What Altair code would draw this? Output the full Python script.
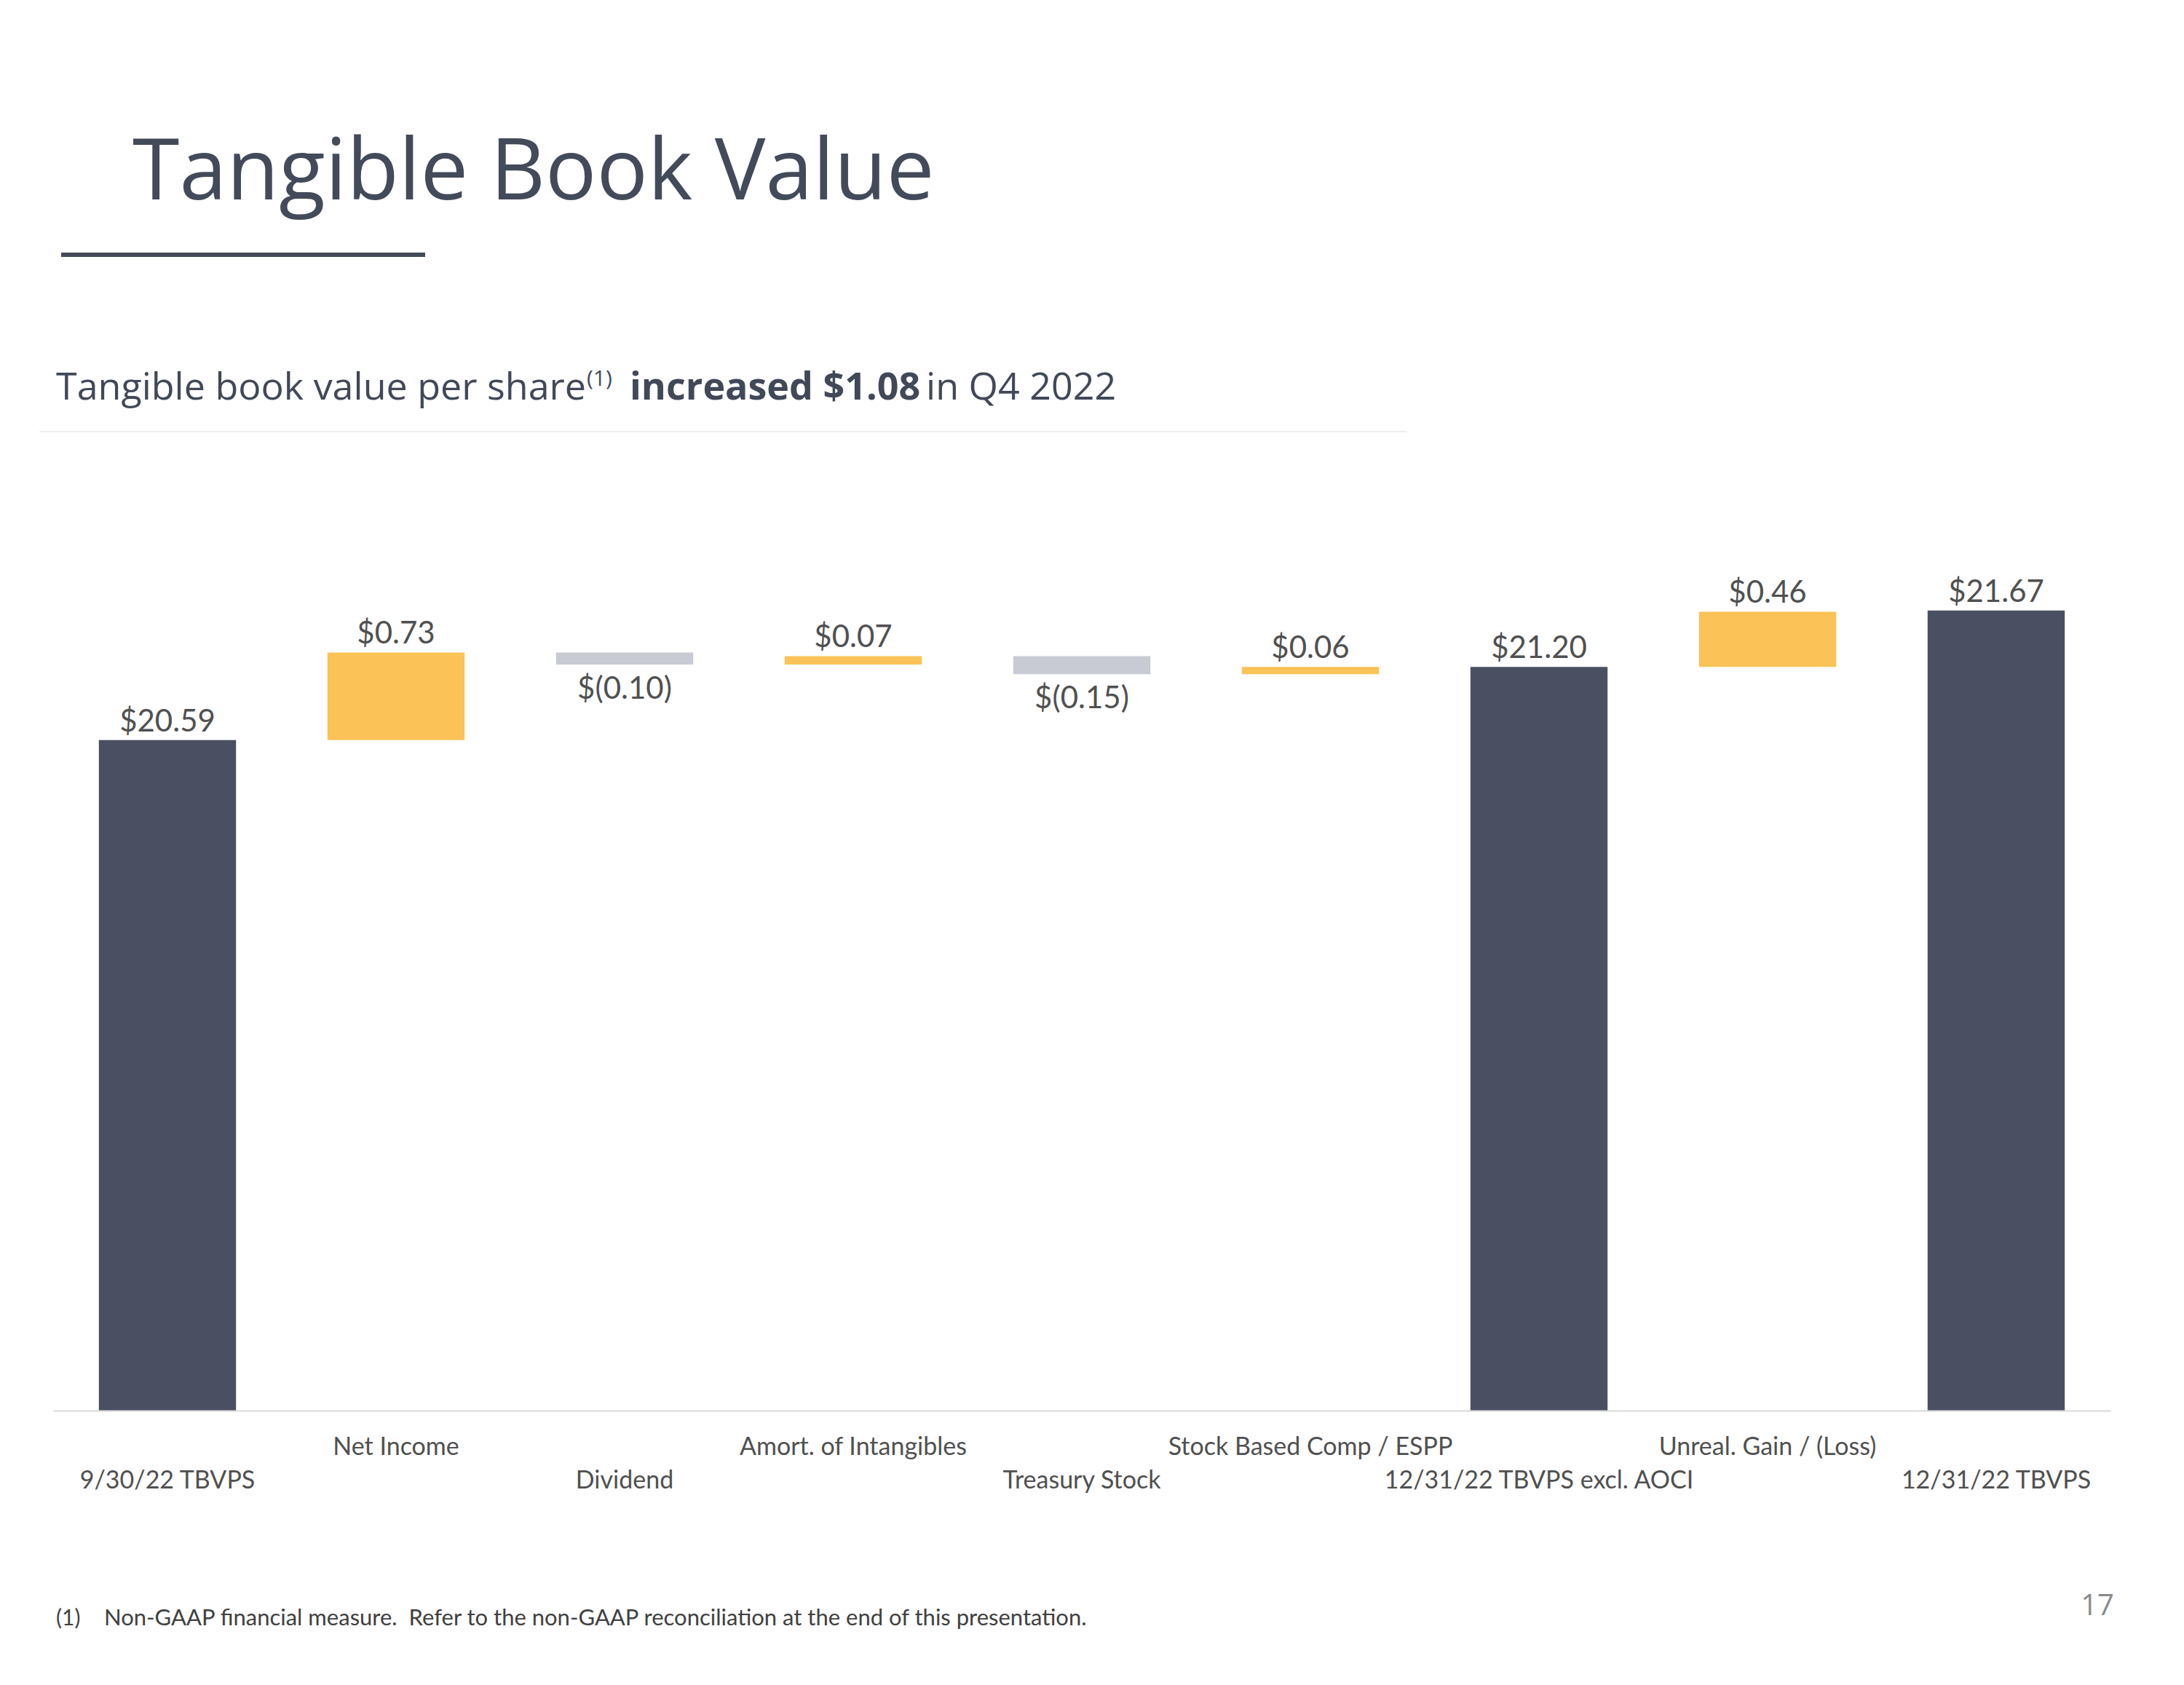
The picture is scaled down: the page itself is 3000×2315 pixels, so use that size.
import json
import altair as alt
import pandas as pd

# ---------------- data ----------------
categories = [
    "9/30/22 TBVPS", "Net Income", "Dividend", "Amort. of Intangibles",
    "Treasury Stock", "Stock Based Comp / ESPP", "12/31/22 TBVPS excl. AOCI",
    "Unreal. Gain / (Loss)", "12/31/22 TBVPS",
]
values = [20.59, 0.73, -0.10, 0.07, -0.15, 0.06, 21.20, 0.46, 21.67]
kinds = ["total", "change", "change", "change", "change", "change", "total", "change", "total"]
lower_row = ["9/30/22 TBVPS", "Dividend", "Treasury Stock", "12/31/22 TBVPS excl. AOCI", "12/31/22 TBVPS"]

title_text = ["Tangible Book Value"]
subtitle_parts = ["Tangible book value per share", "(1)", "increased $1.08", "in Q4 2022"]
footnote_parts = ["(1)", "Non-GAAP financial measure.\u00a0 Refer to the non-GAAP reconciliation at the end of this presentation."]
page_number = ["17"]

Y_MIN, Y_MAX = 15, 22.5

# ---------------- waterfall table ----------------
rows = []
running = 0.0
for c, v, k in zip(categories, values, kinds):
    if k == "total":
        start, end = Y_MIN, v
        running = v
        kind = "total"
        label = f"${v:.2f}"
    else:
        start, end = running, running + v
        running = end
        kind = "up" if v >= 0 else "down"
        label = f"${v:.2f}" if v >= 0 else f"$({abs(v):.2f})"
    rows.append(dict(cat=c, start=start, end=end, top=max(start, end),
                     bottom=min(start, end), label=label, kind=kind, neg=bool(v < 0)))
df = pd.DataFrame(rows)

DARK = "#4a5061"
YELLOW = "#fbc257"
GREY = "#c8cbd3"
LABEL_COLOR = "#505050"
FONT = "Lato"

label_expr = (
    "indexof(" + json.dumps(lower_row) + ", datum.label) >= 0 ? [' ', datum.label] : datum.label"
)

x_enc = alt.X(
    "cat:N", sort=categories, title=None,
    scale=alt.Scale(paddingInner=0.4, paddingOuter=0.2),
    axis=alt.Axis(labelAngle=0, ticks=False, domainColor="#d9d9d9", domainWidth=2,
                  labelFont=FONT, labelFontSize=34, labelColor=LABEL_COLOR,
                  labelPadding=33, labelLimit=1000, labelLineHeight=46,
                  labelBaseline="top", labelExpr=label_expr, zindex=1, grid=False),
)
y_scale = alt.Scale(domain=[Y_MIN, Y_MAX], zero=False, nice=False)

base = alt.Chart(df)

bars = base.mark_bar().encode(
    x=x_enc,
    y=alt.Y("start:Q", scale=y_scale, axis=None),
    y2="end:Q",
    color=alt.Color("kind:N", scale=alt.Scale(domain=["total", "up", "down"],
                                              range=[DARK, YELLOW, GREY]), legend=None),
)

pos_labels = base.transform_filter("!datum.neg").mark_text(
    font=FONT, fontSize=42, color=LABEL_COLOR, baseline="alphabetic", dy=-12
).encode(x=alt.X("cat:N", sort=categories), y=alt.Y("top:Q", scale=y_scale), text="label:N")

neg_labels = base.transform_filter("datum.neg").mark_text(
    font=FONT, fontSize=42, color=LABEL_COLOR, baseline="top", dy=14
).encode(x=alt.X("cat:N", sort=categories), y=alt.Y("bottom:Q", scale=y_scale), text="label:N")


def text_at(txt, x, y, **kw):
    return alt.Chart(pd.DataFrame({"t": [txt]})).mark_text(**kw).encode(
        text="t:N", x=alt.value(x), y=alt.value(y))


def hline(x1, x2, y, color, width):
    return alt.Chart(pd.DataFrame({"a": [0]})).mark_rule(color=color, strokeWidth=width).encode(
        x=alt.value(x1), x2=alt.value(x2), y=alt.value(y))


title = text_at(title_text[0], 109, -428, font="Open Sans", fontSize=117, color="#434a5a",
                align="left", baseline="alphabetic")
underline = hline(11, 511, -352, "#434a5a", 6)
sub1 = text_at(subtitle_parts[0], 4, -153, font="Open Sans", fontSize=52, color="#414858",
               align="left", baseline="alphabetic")
sub2 = text_at(subtitle_parts[1], 733, -172, font="Open Sans", fontSize=30, color="#414858",
               align="left", baseline="alphabetic")
sub3 = text_at(subtitle_parts[2], 792, -153, font="Open Sans", fontSize=52, fontWeight="bold",
               color="#414858", align="left", baseline="alphabetic")
sub4 = text_at(subtitle_parts[3], 1199, -153, font="Open Sans", fontSize=52, color="#414858",
               align="left", baseline="alphabetic")
sep = hline(-19, 1859, -109, "#efefef", 2)
foot1 = text_at(footnote_parts[0], 4, 1531, font=FONT, fontSize=30, color="#404040",
                align="left", baseline="alphabetic")
foot2 = text_at(footnote_parts[1], 70, 1531, font=FONT, fontSize=31, color="#404040",
                align="left", baseline="alphabetic")
page = text_at(page_number[0], 2831, 1517, font="Open Sans", fontSize=40, color="#8a8a8a",
               align="right", baseline="alphabetic")

chart = alt.layer(
    bars, pos_labels, neg_labels, title, underline, sub1, sub2, sub3, sub4, sep, foot1, foot2, page
).properties(
    width=2826, height=1236,
    padding={"left": 73, "top": 702, "right": 101, "bottom": 377},
    autosize=alt.AutoSizeParams(type="none"),
    background="white",
).configure_view(stroke=None)

chart.save("out.html", embed_options={"renderer": "svg", "actions": False})
